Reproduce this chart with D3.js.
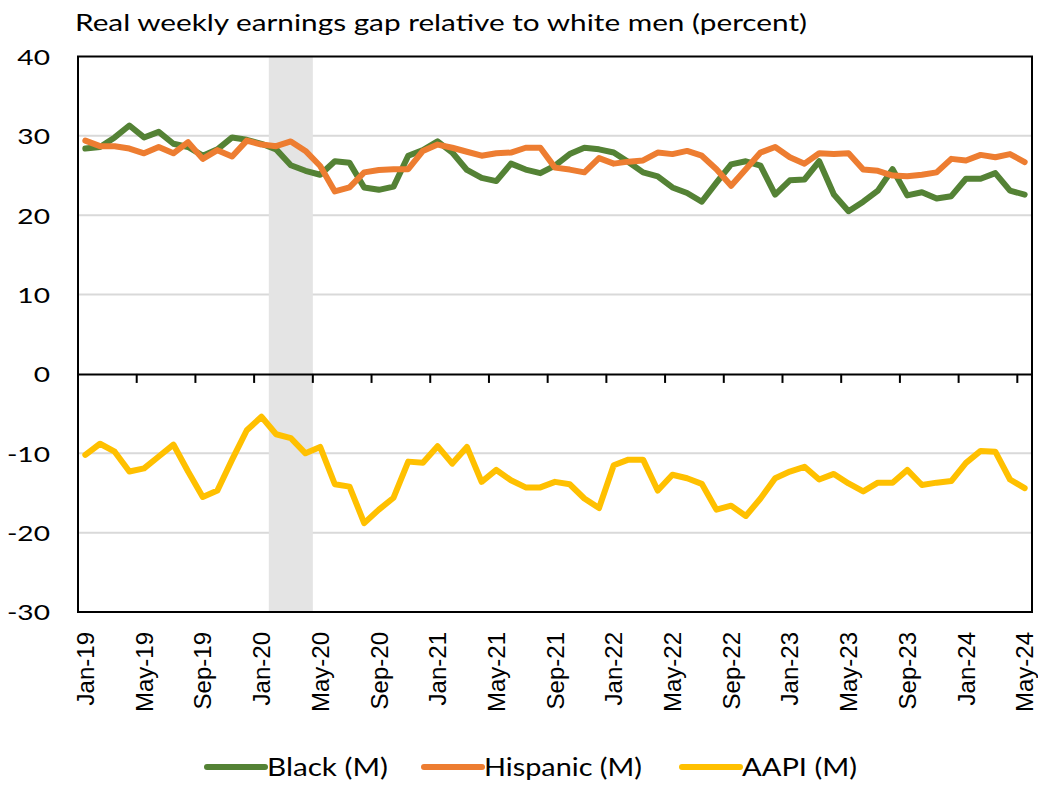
<!DOCTYPE html>
<html>
<head>
<meta charset="utf-8">
<script src="https://cdn.jsdelivr.net/npm/d3@7"></script>
<style>
  body { margin: 0; background: #fff; }
  svg { display: block; }
</style>
</head>
<body>
<div id="chart"></div>
<script>
// months, Jan-19 .. May-24
var months = [
  "Jan-19","Feb-19","Mar-19","Apr-19","May-19","Jun-19","Jul-19","Aug-19","Sep-19","Oct-19","Nov-19","Dec-19",
  "Jan-20","Feb-20","Mar-20","Apr-20","May-20","Jun-20","Jul-20","Aug-20","Sep-20","Oct-20","Nov-20","Dec-20",
  "Jan-21","Feb-21","Mar-21","Apr-21","May-21","Jun-21","Jul-21","Aug-21","Sep-21","Oct-21","Nov-21","Dec-21",
  "Jan-22","Feb-22","Mar-22","Apr-22","May-22","Jun-22","Jul-22","Aug-22","Sep-22","Oct-22","Nov-22","Dec-22",
  "Jan-23","Feb-23","Mar-23","Apr-23","May-23","Jun-23","Jul-23","Aug-23","Sep-23","Oct-23","Nov-23","Dec-23",
  "Jan-24","Feb-24","Mar-24","Apr-24","May-24"
];
var tickLabels = ["Jan-19","May-19","Sep-19","Jan-20","May-20","Sep-20","Jan-21","May-21","Sep-21",
  "Jan-22","May-22","Sep-22","Jan-23","May-23","Sep-23","Jan-24","May-24"];
var yTicks = [-30, -20, -10, 0, 10, 20, 30, 40];
var recession = ["Feb-20", "Apr-20"];

var black = [28.4, 28.6, 29.8, 31.3, 29.8, 30.5, 29.0, 28.6, 27.5, 28.3, 29.8, 29.5,
  29.0, 28.3, 26.3, 25.6, 25.1, 26.8, 26.6, 23.5, 23.2, 23.6, 27.5, 28.2,
  29.3, 27.9, 25.7, 24.7, 24.3, 26.5, 25.75, 25.3, 26.25, 27.7, 28.5, 28.3,
  27.9, 26.7, 25.4, 24.9, 23.5, 22.8, 21.7, 24.1, 26.4, 26.8, 26.25, 22.6,
  24.4, 24.5, 26.8, 22.6, 20.5, 21.7, 23.1, 25.8, 22.5, 22.9, 22.1, 22.4,
  24.6, 24.6, 25.3, 23.1, 22.6];
var hispanic = [29.4, 28.7, 28.7, 28.4, 27.8, 28.6, 27.8, 29.2, 27.1, 28.2, 27.4, 29.4,
  28.9, 28.7, 29.3, 28.1, 26.2, 23.0, 23.5, 25.4, 25.7, 25.8, 25.8, 28.1,
  28.9, 28.5, 28.0, 27.5, 27.8, 27.9, 28.5, 28.5, 26.0, 25.75, 25.4, 27.2,
  26.5, 26.75, 26.9, 27.9, 27.7, 28.1, 27.5, 25.8, 23.7, 25.8, 27.9, 28.6,
  27.3, 26.5, 27.8, 27.7, 27.8, 25.75, 25.6, 25.0, 24.9, 25.1, 25.4, 27.1,
  26.9, 27.6, 27.3, 27.7, 26.7];
var aapi = [-10.2, -8.8, -9.8, -12.3, -11.9, -10.4, -8.9, -12.3, -15.5, -14.7, -10.8, -7.1,
  -5.4, -7.6, -8.1, -10.0, -9.2, -13.9, -14.2, -18.8, -17.1, -15.6, -11.05, -11.2,
  -9.1, -11.3, -9.2, -13.6, -12.1, -13.4, -14.3, -14.3, -13.6, -13.9, -15.7, -16.9,
  -11.5, -10.8, -10.8, -14.7, -12.7, -13.15, -13.85, -17.1, -16.6, -17.9, -15.7, -13.15,
  -12.3, -11.7, -13.3, -12.6, -13.8, -14.8, -13.7, -13.7, -12.1, -14.0, -13.7, -13.5,
  -11.2, -9.7, -9.8, -13.3, -14.4];

var series = [
  {name: "Black (M)", values: black, color: "#548235"},
  {name: "Hispanic (M)", values: hispanic, color: "#ED7D31"},
  {name: "AAPI (M)", values: aapi, color: "#FFC000"}
];

var width = 1038, height = 785;
var margin = {top: 56.5, right: 6, bottom: 173, left: 78};
var calibriLike = "Lato, 'Open Sans', sans-serif";

var svg = d3.select("#chart").append("svg")
    .attr("width", width)
    .attr("height", height);

var x = d3.scaleBand()
    .domain(months)
    .range([margin.left, width - margin.right])
    .paddingInner(0).paddingOuter(0);

var y = d3.scaleLinear()
    .domain([-30, 40])
    .range([height - margin.bottom, margin.top]);

var cx = d => x(d) + x.bandwidth() / 2;

// gridlines
svg.append("g")
  .selectAll("line")
  .data(yTicks.filter(v => v != 0 && v != 40 && v != -30))
  .join("line")
    .attr("x1", margin.left).attr("x2", width - margin.right)
    .attr("y1", d => y(d)).attr("y2", d => y(d))
    .attr("stroke", "#d9d9d9")
    .attr("stroke-width", 2);

// recession shading
svg.append("rect")
    .attr("x", x(recession[0]))
    .attr("width", x(recession[1]) + x.bandwidth() - x(recession[0]))
    .attr("y", y(40))
    .attr("height", y(-30) - y(40))
    .attr("fill", "#e4e4e4");

// y axis labels (plain hyphen for negatives)
var yAxis = svg.append("g")
    .attr("transform", `translate(${margin.left},0)`)
    .call(d3.axisLeft(y).tickValues(yTicks).tickSize(0).tickFormat(d => String(d)));
yAxis.select(".domain").remove();
yAxis.selectAll("text")
    .attr("x", 0)
    .attr("dy", "0.36em")
    .attr("transform", "translate(-28,0) scale(1.28,1)")
    .style("font-family", calibriLike)
    .style("font-size", "22px")
    .attr("fill", "#000");

// zero axis with ticks pointing down, every 4 months
var xAxis = svg.append("g")
    .attr("transform", `translate(0,${y(0)})`)
    .call(d3.axisBottom(x)
      .tickValues(tickLabels)
      .tickSize(9)
      .tickSizeOuter(0)
      .tickFormat(""));
xAxis.select(".domain").attr("stroke", "#000").attr("stroke-width", 2);
xAxis.selectAll(".tick")
    .attr("transform", d => `translate(${x(d)},0)`);
xAxis.selectAll(".tick line").attr("stroke", "#000").attr("stroke-width", 2);

// month labels at the bottom
svg.append("g")
  .selectAll("text")
  .data(tickLabels)
  .join("text")
    .attr("transform", d => `translate(${cx(d)},${y(-30) + 20}) rotate(-90)`)
    .attr("text-anchor", "end")
    .attr("dy", "0.36em")
    .style("font-family", "'Liberation Sans', Arial, sans-serif")
    .style("font-size", "24px")
    .text(d => d);

// lines
var line = d3.line()
    .x((d, i) => cx(months[i]))
    .y(d => y(d));

svg.append("g")
  .selectAll("path")
  .data(series)
  .join("path")
    .attr("d", d => line(d.values))
    .attr("fill", "none")
    .attr("stroke", d => d.color)
    .attr("stroke-width", 6)
    .attr("stroke-linejoin", "round")
    .attr("stroke-linecap", "round");

// plot border
svg.append("rect")
    .attr("x", margin.left)
    .attr("y", margin.top)
    .attr("width", width - margin.right - margin.left)
    .attr("height", y(-30) - margin.top)
    .attr("fill", "none")
    .attr("stroke", "#000")
    .attr("stroke-width", 2);

// title
svg.append("text")
    .attr("x", 75)
    .attr("y", 31)
    .attr("textLength", 732)
    .attr("lengthAdjust", "spacingAndGlyphs")
    .style("font-family", calibriLike)
    .style("font-size", "24px")
    .text("Real weekly earnings gap relative to white men (percent)");

// legend
var legendPos = [{x: 207, w: 121}, {x: 424, w: 158}, {x: 682, w: 115}];
var leg = svg.append("g")
  .selectAll("g")
  .data(series)
  .join("g")
    .attr("transform", (d, i) => `translate(${legendPos[i].x},767)`);
leg.append("line")
    .attr("x1", 0).attr("x2", 58)
    .attr("stroke", d => d.color)
    .attr("stroke-width", 6)
    .attr("stroke-linecap", "round");
leg.append("text")
    .attr("x", 60)
    .attr("dy", "0.36em")
    .attr("textLength", (d, i) => legendPos[i].w)
    .attr("lengthAdjust", "spacingAndGlyphs")
    .style("font-family", calibriLike)
    .style("font-size", "25px")
    .text(d => d.name);
</script>
</body>
</html>
